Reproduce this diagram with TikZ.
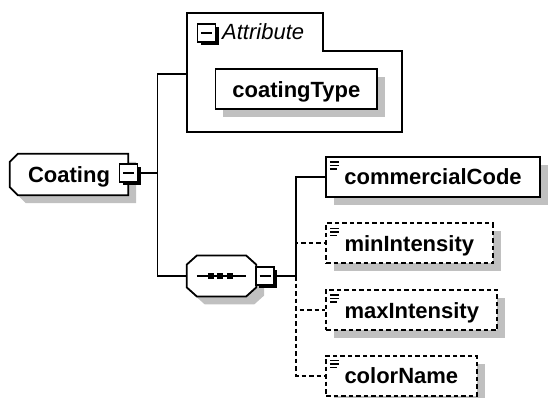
\documentclass[tikz,border=0pt]{standalone}
\usepackage{fontspec}
\setmainfont{Liberation Sans}
\usetikzlibrary{calc,shadows,backgrounds}
\definecolor{ink}{HTML}{000000}
\definecolor{shadowgray}{HTML}{C0C0C0}
\tikzset{
  conn/.style={draw=ink, line width=1.8pt},
  optconn/.style={conn, line width=2pt, dash pattern=on 4.5pt off 3pt},
  boxshadow/.style={drop shadow={shadow xshift=8pt, shadow yshift=-8pt, fill=shadowgray, draw=none, opacity=1}},
  elemtext/.style={font=\fontsize{22}{26}\selectfont\bfseries, text=ink, text height=16pt, text depth=0pt},
  attrbox/.style={elemtext, rectangle, draw=ink, line width=1.8pt, fill=white, boxshadow, minimum height=40pt, inner xsep=17pt},
  elem/.style={attrbox, inner xsep=18.5pt, anchor=west,
    path picture={
      \foreach \dy/\len in {5/9,8.5/9,12/7}
        \draw[ink, solid, line width=1.4pt] ([xshift=4pt,yshift=-\dy pt]path picture bounding box.north west) -- ++(\len pt,0pt);
    }},
  optelem/.style={elem, line width=2pt, dash pattern=on 4.5pt off 3pt},
  minusbox/.style={rectangle, draw=ink, line width=1.6pt, fill=white, minimum size=18pt, inner sep=0pt,
    drop shadow={shadow xshift=3pt, shadow yshift=-3pt, fill=ink, draw=none, opacity=1},
    path picture={
      \draw[ink, line width=1.8pt] ([xshift=3.5pt]path picture bounding box.west) -- ([xshift=-3.5pt]path picture bounding box.east);
    }},
  grp/.style={draw=ink, line width=1.8pt, fill=white},
  lab/.style={font=\fontsize{22}{26}\selectfont\itshape, text=ink, inner sep=0pt},
}

\begin{document}
\begin{tikzpicture}[x=1pt,y=-1pt]
  \useasboundingbox (0,0) rectangle (549,398);

  % attribute group
  \draw[grp] (187,13) -- (323,13) -- (323,51) -- (402,51) -- (402,132) -- (187,132) -- cycle;
  \node[minusbox] (attrminus) at (206.5,33) {};
  \node[lab, anchor=base west] (attrlab) at (222,40) {Attribute};
  \node[attrbox] (coatingType) at (296.4,89.3) {coatingType};

  % root element and sequence
  \node[elemtext, minimum width=118pt, minimum height=41pt, inner sep=0pt] (coating) at (69,174.5) {Coating\hspace{18pt}};
  \node[minimum width=69pt, minimum height=40.5pt, inner sep=0pt] (seq) at (221.5,276) {};
  \begin{scope}[on background layer]
    \draw[grp, boxshadow] ($(coating.north west)+(8,0)$) -- (coating.north east) -- (coating.south east)
      -- ($(coating.south west)+(8,0)$) -- ($(coating.south west)+(0,-8)$) -- ($(coating.north west)+(0,8)$) -- cycle;
    \draw[grp, boxshadow] ($(seq.north west)+(10,0)$) -- ($(seq.north east)+(-10,0)$) -- ($(seq.north east)+(0,9)$)
      -- ($(seq.south east)+(0,-9)$) -- ($(seq.south east)+(-10,0)$) -- ($(seq.south west)+(10,0)$)
      -- ($(seq.south west)+(0,-9)$) -- ($(seq.north west)+(0,9)$) -- cycle;
  \end{scope}
  \draw[conn] ($(seq.west)+(10,0)$) -- ($(seq.east)+(-10,0)$);
  \foreach \dx in {-11,-2,8}
    \fill[ink] ($(seq.center)+(\dx,0)$) +(-3,-3) rectangle +(3,3);
  \node[minusbox] (cminus) at (128.5,173) {};
  \node[minusbox] (sminus) at (265,276) {};

  % child elements
  \node[elem] (commercialCode) at (325,177) {commercialCode};
  \node[optelem] (minIntensity) at (325,243.5) {minIntensity};
  \node[optelem] (maxIntensity) at (325,310) {maxIntensity};
  \node[optelem] (colorName) at (325,375.5) {colorName};

  % connectors
  \coordinate (attrin) at (187,74);
  \coordinate (trunk) at (157.5,173);
  \coordinate (fork) at (296,276);
  \draw[conn] (cminus.east) -- (trunk);
  \draw[conn] (attrin) -| (trunk) |- (seq.west);
  \draw[conn] (sminus.east) -- (fork);
  \draw[conn] (fork) |- (commercialCode.west);
  \foreach \n in {minIntensity,maxIntensity,colorName}
    \draw[optconn] (fork) |- (\n.west);
\end{tikzpicture}
\end{document}
